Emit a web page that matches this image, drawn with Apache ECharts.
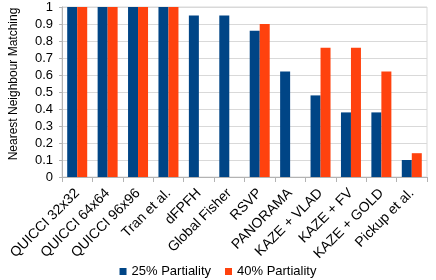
<!DOCTYPE html>
<html><head><meta charset="utf-8">
<script src="https://cdn.jsdelivr.net/npm/echarts@6/dist/echarts.min.js"></script>
<style>html,body{margin:0;padding:0;background:#fff}#c{width:436px;height:280px}</style>
</head><body><div id="c"></div>
<script>
const categories = ['QUICCI 32x32','QUICCI 64x64','QUICCI 96x96','Tran et al.','dFPFH','Global Fisher','RSVP','PANORAMA','KAZE + VLAD','KAZE + FV','KAZE + GOLD','Pickup et al.'];
const partiality25 = [1, 1, 1, 1, 0.95, 0.95, 0.86, 0.62, 0.48, 0.38, 0.38, 0.10];
const partiality40 = [1, 1, 1, 1, null, null, 0.90, null, 0.76, 0.76, 0.62, 0.14];
const seriesNames = ['25% Partiality', '40% Partiality'];
const yAxisName = 'Nearest Neighbour Matching';

const chart = echarts.init(document.getElementById('c'), null, {renderer: 'canvas'});
const font = 'Liberation Sans';
chart.setOption({
  animation: false,
  textStyle: {fontFamily: font},
  grid: {left: 54, right: 9, top: 7, bottom: 103, show: true, borderColor: '#d9d9d9', borderWidth: 1},
  legend: {
    top: 260, left: 'center', itemWidth: 7, itemHeight: 7, itemGap: 14,
    icon: 'rect',
    textStyle: {fontFamily: font, fontSize: 13, color: '#000'},
    data: seriesNames
  },
  xAxis: {
    type: 'category', data: categories,
    axisLine: {lineStyle: {color: '#b3b3b3'}},
    axisTick: {show: true, interval: 0, length: 5, lineStyle: {color: '#b3b3b3'}},
    axisLabel: {interval: 0, rotate: 45, fontSize: 14, color: '#000', fontFamily: font, margin: 14}
  },
  yAxis: {
    type: 'value', min: 0, max: 1, interval: 0.1,
    name: yAxisName, nameLocation: 'middle', nameGap: 42, nameRotate: 90,
    nameTextStyle: {fontFamily: font, fontSize: 12, color: '#000', padding: [0, 0, 0, 16]},
    axisLine: {show: true, lineStyle: {color: '#b3b3b3'}},
    axisTick: {show: true, length: 3, lineStyle: {color: '#b3b3b3'}},
    axisLabel: {fontSize: 13, color: '#000', fontFamily: font, margin: 9},
    splitLine: {lineStyle: {color: '#d9d9d9'}}
  },
  series: [
    {name: seriesNames[0], type: 'bar', data: partiality25, barWidth: 10, barGap: '0%', itemStyle: {color: '#004586'}},
    {name: seriesNames[1], type: 'bar', data: partiality40, barWidth: 10, barGap: '0%', itemStyle: {color: '#ff420e'}}
  ]
});
</script></body></html>
